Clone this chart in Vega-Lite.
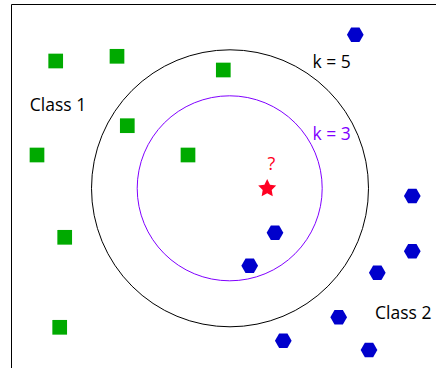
{
  "$schema": "https://vega.github.io/schema/vega-lite/v6.json",
  "width": 436,
  "height": 368,
  "padding": 0,
  "autosize": "none",
  "background": "white",
  "config": {"view": {"stroke": null}},
  "datasets": {
    "border": [
      {"x": 11.5, "y": 4.5, "x2": 11.5, "y2": 370},
      {"x": 11.5, "y": 4.5, "x2": 440, "y2": 4.5}
    ],
    "rings": [
      {"x": 230, "y": 188.3, "k": 5},
      {"x": 229.7, "y": 188.3, "k": 3}
    ],
    "class1": [
      {"x": 55.7, "y": 61},
      {"x": 117, "y": 56.3},
      {"x": 223.3, "y": 70},
      {"x": 127.3, "y": 125.7},
      {"x": 37, "y": 155},
      {"x": 188, "y": 155},
      {"x": 64.7, "y": 237.3},
      {"x": 59.7, "y": 327.3}
    ],
    "class2": [
      {"x": 355.3, "y": 34.7},
      {"x": 412.3, "y": 196},
      {"x": 275, "y": 232.7},
      {"x": 412.3, "y": 251.3},
      {"x": 249.7, "y": 265.7},
      {"x": 377.3, "y": 272.7},
      {"x": 338.7, "y": 317.3},
      {"x": 283.3, "y": 340.7},
      {"x": 369, "y": 350}
    ],
    "query": [
      {"x": 267.2, "y": 188.5}
    ],
    "labels": [
      {"x": 58, "y": 110.5, "label": "Class 1"},
      {"x": 403.3, "y": 319.3, "label": "Class 2"},
      {"x": 331.7, "y": 68.3, "label": "k = 5"},
      {"x": 331.7, "y": 140, "label": "k = 3"}
    ],
    "question": [
      {"x": 271.3, "y": 170, "label": "?"}
    ]
  },
  "encoding": {
    "x": {"field": "x", "type": "quantitative", "scale": {"domain": [0, 436], "nice": false, "zero": false}, "axis": null},
    "y": {"field": "y", "type": "quantitative", "scale": {"domain": [0, 368], "nice": false, "zero": false, "reverse": true}, "axis": null}
  },
  "layer": [
    {
      "data": {"name": "border"},
      "mark": {"type": "rule", "color": "#000000", "strokeWidth": 1},
      "encoding": {
        "x2": {"field": "x2"},
        "y2": {"field": "y2"}
      }
    },
    {
      "data": {"name": "rings"},
      "transform": [{"filter": "datum.k === 5"}],
      "mark": {"type": "point", "shape": "circle", "filled": false, "size": 76729, "stroke": "#000000", "strokeWidth": 1, "opacity": 1}
    },
    {
      "data": {"name": "rings"},
      "transform": [{"filter": "datum.k === 3"}],
      "mark": {"type": "point", "shape": "circle", "filled": false, "size": 34225, "stroke": "#8000ff", "strokeWidth": 1, "opacity": 1}
    },
    {
      "data": {"name": "class1"},
      "mark": {"type": "point", "shape": "square", "filled": true, "size": 216, "color": "#00aa00", "opacity": 1}
    },
    {
      "data": {"name": "class2"},
      "mark": {"type": "point", "shape": "M-1,0L-0.5,-0.866L0.5,-0.866L1,0L0.5,0.866L-0.5,0.866Z", "filled": true, "size": 279, "color": "#0000cc", "opacity": 1}
    },
    {
      "data": {"name": "query"},
      "mark": {"type": "point", "shape": "M0,-1L0.294,-0.405L0.951,-0.309L0.476,0.155L0.588,0.809L0,0.5L-0.588,0.809L-0.476,0.155L-0.951,-0.309L-0.294,-0.405Z", "filled": true, "size": 358, "color": "#ff0022", "opacity": 1}
    },
    {
      "data": {"name": "labels"},
      "mark": {"type": "text", "font": "Open Sans", "fontSize": 17.5, "align": "center", "baseline": "alphabetic"},
      "encoding": {
        "text": {"field": "label"},
        "color": {
          "field": "label",
          "type": "nominal",
          "scale": {"domain": ["Class 1", "Class 2", "k = 5", "k = 3"], "range": ["#000000", "#000000", "#000000", "#8000ff"]},
          "legend": null
        }
      }
    },
    {
      "data": {"name": "question"},
      "mark": {"type": "text", "font": "Open Sans", "fontSize": 18, "align": "center", "baseline": "alphabetic", "color": "#ff0022"},
      "encoding": {
        "text": {"field": "label"}
      }
    }
  ]
}
